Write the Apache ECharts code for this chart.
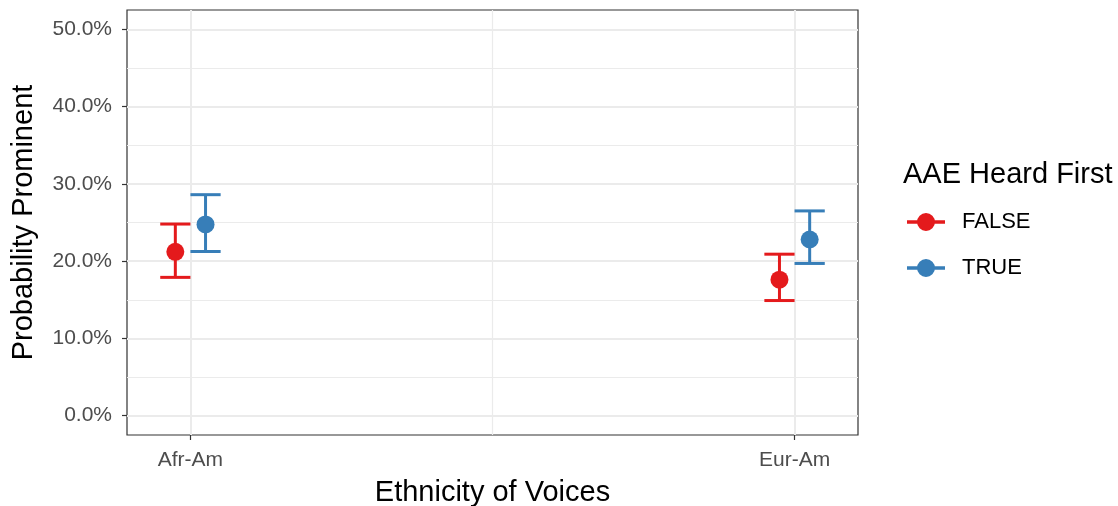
<!DOCTYPE html>
<html>
<head>
<meta charset="utf-8">
<script src="https://cdn.jsdelivr.net/npm/echarts@6/dist/echarts.min.js"></script>
<style>
  html, body { margin: 0; padding: 0; background: #ffffff; }
  #chart { width: 1118px; height: 506px; }
</style>
</head>
<body>
<div id="chart"></div>
<script>
// Probability of a prominent rating by voice ethnicity, split by whether AAE was heard first.
const categories = ['Afr-Am', 'Eur-Am'];
const groups = ['FALSE', 'TRUE'];

// Estimates and 95% intervals, in percent
const falseMean = [21.2, 17.6];
const falseLow  = [17.9, 14.9];
const falseHigh = [24.8, 20.9];
const trueMean  = [24.75, 22.8];
const trueLow   = [21.25, 19.7];
const trueHigh  = [28.6, 26.5];

const yTicks = [0, 10, 20, 30, 40, 50];
const yMinorTicks = [5, 15, 25, 35, 45];
const xTicks = [1, 2];
const xMinorTicks = [1.5];

const colors = { FALSE: '#E41A1C', TRUE: '#377EB8' };
const dodge = { FALSE: -0.025, TRUE: 0.025 };
const capHalf = 0.025;
const FONT = '"Liberation Sans", Arial, Helvetica, sans-serif';

function errorBarSeries(name, low, high) {
  return {
    type: 'custom',
    name: name,
    xAxisIndex: 0,
    yAxisIndex: 0,
    z: 2,
    silent: true,
    data: categories.map((c, i) => [i + 1 + dodge[name], low[i], high[i]]),
    encode: { x: 0, y: [1, 2] },
    renderItem: function (params, api) {
      const x = api.value(0);
      const lo = api.coord([x, api.value(1)]);
      const hi = api.coord([x, api.value(2)]);
      const left = api.coord([x - capHalf, api.value(1)]);
      const right = api.coord([x + capHalf, api.value(1)]);
      const half = (right[0] - left[0]) / 2;
      const style = { stroke: colors[name], lineWidth: 3, fill: null };
      return {
        type: 'group',
        children: [
          { type: 'line', shape: { x1: lo[0], y1: lo[1], x2: hi[0], y2: hi[1] }, style: style },
          { type: 'line', shape: { x1: lo[0] - half, y1: lo[1], x2: lo[0] + half, y2: lo[1] }, style: style },
          { type: 'line', shape: { x1: hi[0] - half, y1: hi[1], x2: hi[0] + half, y2: hi[1] }, style: style }
        ]
      };
    }
  };
}

function pointSeries(name, mean) {
  return {
    type: 'scatter',
    name: name,
    xAxisIndex: 0,
    yAxisIndex: 0,
    z: 3,
    symbol: 'circle',
    symbolSize: 18,
    itemStyle: { color: colors[name], opacity: 1 },
    data: categories.map((c, i) => [i + 1 + dodge[name], mean[i]])
  };
}

// Line-with-dot key glyph
const keyIcon = 'path://M0,7.25 L38,7.25 L38,10.75 L0,10.75 Z M10,9 A9,9 0 1 1 28,9 A9,9 0 1 1 10,9 Z';

const xRange = { min: 0.895, max: 2.105 };
const yRange = { min: -2.5, max: 52.5 };

const option = {
  animation: false,
  backgroundColor: '#ffffff',
  textStyle: { fontFamily: FONT },
  grid: {
    left: 127, right: 260, top: 10, bottom: 71,
    outerBoundsMode: 'none',
    show: true, borderColor: '#333333', borderWidth: 1.2, backgroundColor: 'transparent',
    containLabel: false
  },
  title: {
    text: 'AAE Heard First',
    left: 903, top: 160, padding: 0,
    textStyle: { fontFamily: FONT, fontSize: 29, fontWeight: 'normal', color: '#000000' }
  },
  legend: {
    orient: 'vertical',
    left: 907, top: 211, padding: 0,
    itemWidth: 38, itemHeight: 18, itemGap: 24,
    data: groups.map(g => ({ name: g, icon: keyIcon, itemStyle: { color: colors[g] } })),
    textStyle: { fontFamily: FONT, fontSize: 22, color: '#000000', padding: [0, 0, 0, 12] },
    selectedMode: false
  },
  xAxis: [
    {
      type: 'value', min: xRange.min, max: xRange.max,
      axisLine: { show: false, onZero: false },
      axisTick: { show: true, length: 5, lineStyle: { color: '#333333', width: 1.2 }, customValues: xTicks },
      axisLabel: {
        customValues: xTicks, margin: 15,
        formatter: v => categories[Math.round(v) - 1],
        color: '#4D4D4D', fontSize: 21, fontFamily: FONT
      },
      splitLine: { show: true, lineStyle: { color: '#EBEBEB', width: 2 } },
      name: 'Ethnicity of Voices', nameLocation: 'middle', nameGap: 43,
      nameTextStyle: { fontFamily: FONT, fontSize: 29, color: '#000000' }
    },
    {
      type: 'value', min: xRange.min, max: xRange.max, position: 'bottom',
      axisLine: { show: false, onZero: false },
      axisTick: { show: false, customValues: xMinorTicks },
      axisLabel: { show: false, customValues: xMinorTicks },
      splitLine: { show: true, lineStyle: { color: '#EBEBEB', width: 1.2 } }
    }
  ],
  yAxis: [
    {
      type: 'value', min: yRange.min, max: yRange.max,
      axisLine: { show: false, onZero: false },
      axisTick: { show: true, length: 5, lineStyle: { color: '#333333', width: 1.2 }, customValues: yTicks },
      axisLabel: {
        customValues: yTicks, margin: 15,
        formatter: v => v.toFixed(1) + '%',
        color: '#4D4D4D', fontSize: 21, fontFamily: FONT
      },
      splitLine: { show: true, lineStyle: { color: '#EBEBEB', width: 2 } },
      name: 'Probability Prominent', nameLocation: 'middle', nameGap: 89, nameRotate: 90,
      nameTextStyle: { fontFamily: FONT, fontSize: 29, color: '#000000' }
    },
    {
      type: 'value', min: yRange.min, max: yRange.max, position: 'left',
      axisLine: { show: false, onZero: false },
      axisTick: { show: false, customValues: yMinorTicks },
      axisLabel: { show: false, customValues: yMinorTicks },
      splitLine: { show: true, lineStyle: { color: '#EBEBEB', width: 1.2 } }
    }
  ],
  series: [
    errorBarSeries('FALSE', falseLow, falseHigh),
    errorBarSeries('TRUE', trueLow, trueHigh),
    pointSeries('FALSE', falseMean),
    pointSeries('TRUE', trueMean)
  ]
};

const chart = echarts.init(document.getElementById('chart'), null, { renderer: 'canvas' });
chart.setOption(option);
</script>
</body>
</html>
